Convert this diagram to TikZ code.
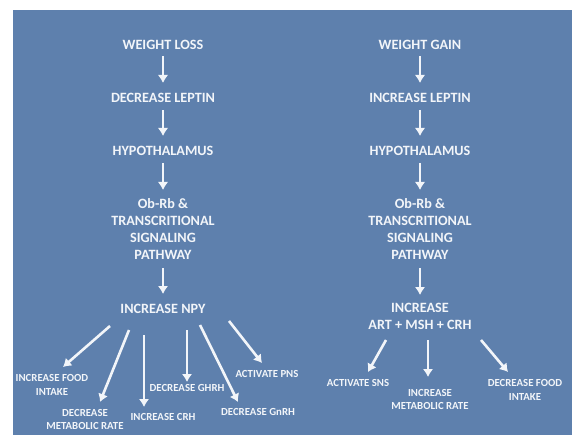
\documentclass[tikz,border=0pt]{standalone}
\usepackage{fontspec}
\setmainfont{Carlito}
\usetikzlibrary{arrows.meta,calc}

\definecolor{bgblue}{HTML}{5E80AD}
\definecolor{txtwhite}{HTML}{F2F5F9}

\tikzset{
	stage/.style={text=txtwhite,align=center,inner sep=1pt,font=\bfseries\fontsize{14.2}{17}\selectfont},
	effect/.style={text=txtwhite,align=center,inner sep=1pt,font=\bfseries\fontsize{10.8}{13.8}\selectfont},
	flow/.style={draw=txtwhite,line width=2.6pt,-{Latex[length=8pt,width=10.5pt]}},
}

\begin{document}
\begin{tikzpicture}[x=1pt,y=-1pt]
\useasboundingbox (0,0) rectangle (572,435);
\fill[bgblue] (13,10) rectangle (572,435);

% WEIGHT LOSS
\node[stage] (loss) at (163,45) {WEIGHT LOSS};
\node[stage] (decleptin) at (163,98) {DECREASE LEPTIN};
\node[stage] (hypoL) at (163,151) {HYPOTHALAMUS};
\node[stage] (obrbL) at (163,229) {Ob-Rb \&\\TRANSCRITIONAL\\SIGNALING\\PATHWAY};
\node[stage] (npy) at (163,309) {INCREASE NPY};

\draw[flow] ($(loss)+(0,11)$) -- ($(decleptin)+(0,-15)$);
\draw[flow] ($(decleptin)+(0,12)$) -- ($(hypoL)+(0,-15)$);
\draw[flow] ($(hypoL)+(0,12)$) -- ($(obrbL)+(0,-39)$);
\draw[flow] ($(obrbL)+(0,39)$) -- ($(npy)+(0,-15)$);

\node[effect] (foodup) at (52,385) {INCREASE FOOD\\INTAKE};
\node[effect] (metdown) at (85,419.5) {DECREASE\\METABOLIC RATE};
\node[effect] (crhup) at (163,417) {INCREASE CRH};
\node[effect] (ghrh) at (187,388) {DECREASE GHRH};
\node[effect] (gnrh) at (258,412) {DECREASE GnRH};
\node[effect] (pns) at (267,374) {ACTIVATE PNS};

\draw[flow] ($(npy)+(-53,17)$) -- ($(foodup)+(11,-18)$);
\draw[flow] ($(npy)+(-34,21)$) -- ($(metdown)+(15,-17.5)$);
\draw[flow] ($(npy)+(-19,26)$) -- ($(crhup)+(-19,-10)$);
\draw[flow] ($(npy)+(24,21)$) -- ($(ghrh)+(0,-6)$);
\draw[flow] ($(npy)+(37,16)$) -- ($(gnrh)+(-20,-10)$);
\draw[flow] ($(npy)+(66,12)$) -- ($(pns)+(-5,-11)$);

% WEIGHT GAIN
\node[stage] (gain) at (420,45) {WEIGHT GAIN};
\node[stage] (incleptin) at (420,98) {INCREASE LEPTIN};
\node[stage] (hypoR) at (420,151) {HYPOTHALAMUS};
\node[stage] (obrbR) at (420,229) {Ob-Rb \&\\TRANSCRITIONAL\\SIGNALING\\PATHWAY};
\node[stage] (art) at (420,316.5) {INCREASE\\ART + MSH + CRH};

\draw[flow] ($(gain)+(0,11)$) -- ($(incleptin)+(0,-15)$);
\draw[flow] ($(incleptin)+(0,12)$) -- ($(hypoR)+(0,-15)$);
\draw[flow] ($(hypoR)+(0,12)$) -- ($(obrbR)+(0,-39)$);
\draw[flow] ($(obrbR)+(0,39)$) -- ($(art)+(0,-21.5)$);

\node[effect] (sns) at (358,383) {ACTIVATE SNS};
\node[effect] (metup) at (430,399.5) {INCREASE\\METABOLIC RATE};
\node[effect] (fooddown) at (525,390) {DECREASE FOOD\\INTAKE};

\draw[flow] ($(art)+(-34,23.5)$) -- ($(sns)+(10,-11)$);
\draw[flow] ($(art)+(8,23.5)$) -- ($(metup)+(-2,-22.5)$);
\draw[flow] ($(art)+(61,23.5)$) -- ($(fooddown)+(-17,-18)$);
\end{tikzpicture}
\end{document}
